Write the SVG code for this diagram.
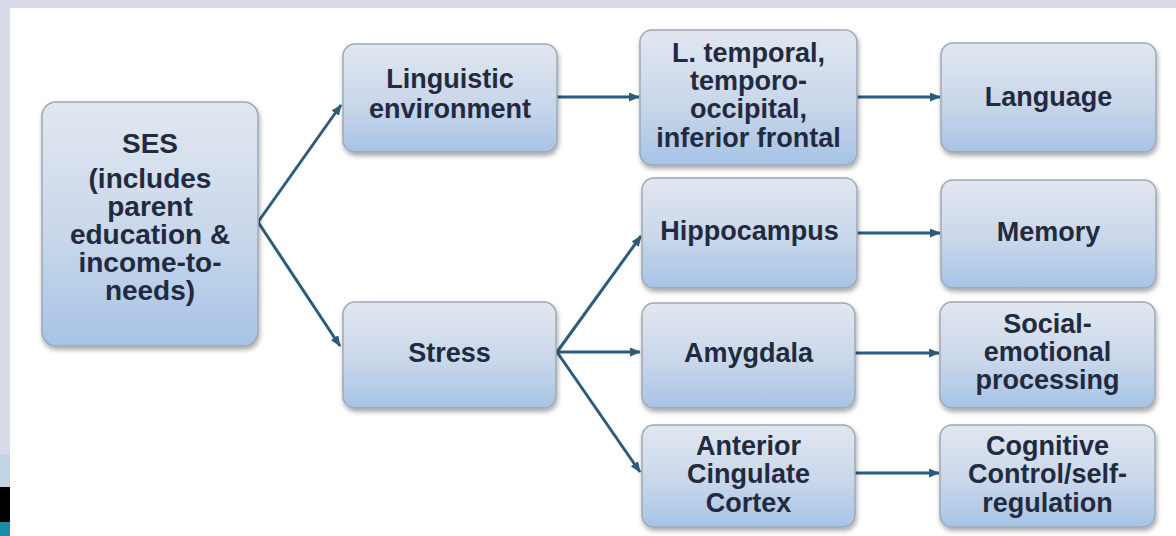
<svg xmlns="http://www.w3.org/2000/svg" width="1176" height="536" viewBox="0 0 1176 536">
<defs>
<linearGradient id="g" x1="0" y1="0" x2="0" y2="1">
<stop offset="0" stop-color="#e1e7f0"/>
<stop offset="0.55" stop-color="#c9d7ea"/>
<stop offset="1" stop-color="#a6c3e6"/>
</linearGradient>
<filter id="sh" x="-10%" y="-10%" width="125%" height="125%">
<feGaussianBlur in="SourceAlpha" stdDeviation="2.5"/>
<feOffset dx="1" dy="3" result="b"/>
<feComponentTransfer><feFuncA type="linear" slope="0.35"/></feComponentTransfer>
<feMerge><feMergeNode/><feMergeNode in="SourceGraphic"/></feMerge>
</filter>
<marker id="ah" markerUnits="userSpaceOnUse" markerWidth="11" markerHeight="9" refX="10" refY="4.5" orient="auto">
<path d="M0,0 L11,4.5 L0,9 z" fill="#2d5b7c"/>
</marker>
<style>
.box{fill:url(#g);stroke:#9ea8b6;stroke-width:1.5;filter:url(#sh)}
.t{font-family:"Liberation Sans",Arial,sans-serif;font-weight:bold;font-size:27px;fill:#222a40;text-anchor:middle}
.s{font-size:28px}
.c{fill:none;stroke:#2d5b7c;stroke-width:3;marker-end:url(#ah)}
</style>
</defs>
<rect x="0" y="0" width="1176" height="536" fill="#ffffff"/>
<rect x="0" y="0" width="1176" height="8" fill="#d9dbe8"/>
<rect x="0" y="0" width="10" height="454" fill="#d9dbe8"/>
<rect x="0" y="454" width="10" height="33" fill="#c3d4e3"/>
<rect x="0" y="487" width="10" height="35" fill="#000000"/>
<rect x="0" y="522" width="10" height="14" fill="#1a8aa6"/>

<g id="connectors">
<path class="c" d="M258,222 L341,105"/>
<path class="c" d="M258,222 L340,346"/>
<path class="c" d="M557,97 L639,97"/>
<path class="c" d="M857,97 L940,97"/>
<path class="c" d="M557,352 L641,236"/>
<path class="c" d="M557,352 L640,352"/>
<path class="c" d="M557,352 L640,472"/>
<path class="c" d="M857,233 L940,233"/>
<path class="c" d="M855,353 L939,353"/>
<path class="c" d="M855,473 L939,473"/>
</g>

<g id="ses">
<rect class="box" x="42" y="102" width="216" height="244" rx="14"/>
<text class="t s" x="150" y="153">SES</text>
<text class="t s" x="150" y="188">(includes</text>
<text class="t s" x="150" y="216">parent</text>
<text class="t s" x="150" y="244">education &amp;</text>
<text class="t s" x="150" y="272">income-to-</text>
<text class="t s" x="150" y="300">needs)</text>
</g>

<g id="linguistic">
<rect class="box" x="343" y="44" width="214" height="108" rx="12"/>
<text class="t" x="450" y="88">Linguistic</text>
<text class="t" x="450" y="118">environment</text>
</g>

<g id="ltemporal">
<rect class="box" x="640" y="30" width="217" height="135" rx="12"/>
<text class="t" x="748.5" y="62">L. temporal,</text>
<text class="t" x="748.5" y="90">temporo-</text>
<text class="t" x="748.5" y="118">occipital,</text>
<text class="t" x="748.5" y="147">inferior frontal</text>
</g>

<g id="language">
<rect class="box" x="941" y="43" width="215" height="109" rx="12"/>
<text class="t" x="1048.5" y="106">Language</text>
</g>

<g id="stress">
<rect class="box" x="343" y="302" width="213" height="106" rx="12"/>
<text class="t" x="449.5" y="362">Stress</text>
</g>

<g id="hippocampus">
<rect class="box" x="642" y="178" width="215" height="110" rx="12"/>
<text class="t" x="749.5" y="240">Hippocampus</text>
</g>

<g id="memory">
<rect class="box" x="941" y="180" width="215" height="108" rx="12"/>
<text class="t" x="1048.5" y="241">Memory</text>
</g>

<g id="amygdala">
<rect class="box" x="642" y="303" width="213" height="105" rx="12"/>
<text class="t" x="748.5" y="362">Amygdala</text>
</g>

<g id="social">
<rect class="box" x="940" y="302" width="215" height="106" rx="12"/>
<text class="t" x="1047.5" y="333">Social-</text>
<text class="t" x="1047.5" y="361">emotional</text>
<text class="t" x="1047.5" y="389">processing</text>
</g>

<g id="acc">
<rect class="box" x="642" y="425" width="213" height="102" rx="12"/>
<text class="t" x="748.5" y="455">Anterior</text>
<text class="t" x="748.5" y="483">Cingulate</text>
<text class="t" x="748.5" y="512">Cortex</text>
</g>

<g id="cognitive">
<rect class="box" x="940" y="425" width="215" height="102" rx="12"/>
<text class="t" x="1047.5" y="455">Cognitive</text>
<text class="t" x="1047.5" y="483">Control/self-</text>
<text class="t" x="1047.5" y="512">regulation</text>
</g>
</svg>
